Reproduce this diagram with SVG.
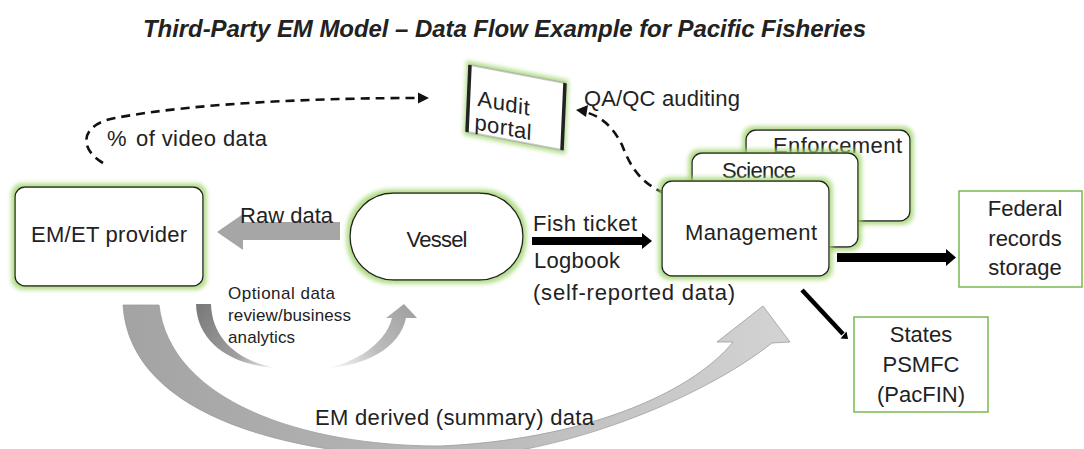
<svg xmlns="http://www.w3.org/2000/svg" width="1084" height="449" viewBox="0 0 1084 449">
<style>
text{font-family:"Liberation Sans",Arial,sans-serif;fill:#222;}
.t22{font-size:22px;}
.t17{font-size:17px;}
.box{fill:#fff;stroke:#222;stroke-width:1.4;}
.gbox{fill:#fff;stroke:#78b84f;stroke-width:1.5;}
.dash{fill:none;stroke:#111;stroke-width:2.6;stroke-dasharray:9 6;}
</style>
<defs>
<filter id="glow" x="-15%" y="-15%" width="130%" height="130%">
<feMorphology in="SourceAlpha" operator="dilate" radius="2.5" result="d"/>
<feGaussianBlur in="d" stdDeviation="2" result="b"/>
<feFlood flood-color="#9fd46c" flood-opacity="0.8"/>
<feComposite in2="b" operator="in" result="g"/>
<feMerge><feMergeNode in="g"/><feMergeNode in="SourceGraphic"/></feMerge>
</filter>
<linearGradient id="bigG" gradientUnits="userSpaceOnUse" x1="120" y1="0" x2="790" y2="0">
<stop offset="0" stop-color="#a3a3a3"/>
<stop offset="0.45" stop-color="#b5b5b5"/>
<stop offset="1" stop-color="#d3d3d3"/>
</linearGradient>
<linearGradient id="smL" gradientUnits="userSpaceOnUse" x1="200" y1="305" x2="280" y2="370">
<stop offset="0" stop-color="#7a7a7a"/>
<stop offset="0.6" stop-color="#a0a0a0"/>
<stop offset="1" stop-color="#ffffff"/>
</linearGradient>
<linearGradient id="smR" gradientUnits="userSpaceOnUse" x1="327" y1="368" x2="405" y2="306">
<stop offset="0" stop-color="#ffffff"/>
<stop offset="0.5" stop-color="#bdbdbd"/>
<stop offset="1" stop-color="#a3a3a3"/>
</linearGradient>
</defs>

<text x="143" y="37" font-size="24" font-weight="bold" font-style="italic" textLength="723" fill="#000">Third-Party EM Model – Data Flow Example for Pacific Fisheries</text>

<g id="connectors">
<path d="M123 305 L159 305 C170 400 300 446 440 446 C580 440 690 395 733 342 L717 342 L763 306 L790 342 L772 343 C700 400 560 455 450 458 C300 458 130 420 123 305 Z" fill="url(#bigG)" stroke="#9c9c9c" stroke-width="0.8"/>
<path d="M196 304 L211 304 C212 340 240 362 277 368 C235 366 197 345 196 304 Z" fill="url(#smL)"/>
<path d="M327 368 C355 362 385 345 392 318 L386 318 L404 304 L417 318 L406 318 C400 348 365 366 327 368 Z" fill="url(#smR)"/>
<path d="M340 222 L243 222 L243 214 L217 232 L243 250 L243 240 L340 240 Z" fill="#a6a6a6"/>
<path d="M532 237 L642 237 L642 233 L652 241 L642 249 L642 245 L532 245 Z" fill="#000"/>
<path d="M837 253 L946 253 L946 249 L956 257.5 L946 266 L946 262 L837 262 Z" fill="#000"/>
<line x1="802" y1="290" x2="843" y2="334" stroke="#000" stroke-width="4.5"/>
<path d="M840.5 338.5 L848 339 L846.5 331.5 Z" fill="#000"/>
<path class="dash" d="M103 163 C80 150 78 125 115 118 C200 102 330 98 420 98"/>
<path d="M418 92.5 L429 98 L418 103.5 Z" fill="#111"/>
<path class="dash" d="M679 198 C640 188 630 165 622 145 C612 125 600 116 585 112"/>
<path d="M576 110 L588 105 L586 117 Z" fill="#111"/>
</g>

<g id="em-provider">
<rect class="box" x="15" y="187" width="188" height="99" rx="10" filter="url(#glow)"/>
<text class="t22" x="109" y="242" text-anchor="middle" textLength="156">EM/ET provider</text>
</g>

<g id="vessel">
<rect class="box" x="350" y="193" width="173" height="87" rx="43.5" filter="url(#glow)"/>
<text class="t22" x="437" y="247" text-anchor="middle" textLength="61">Vessel</text>
</g>

<g id="audit-portal" transform="matrix(1 0.19 -0.045 1 470 65)">
<rect x="0" y="0" width="95" height="67" fill="#fff" stroke="#a0a0a0" stroke-width="1.2" filter="url(#glow)"/>
<line x1="0" y1="0" x2="0" y2="67" stroke="#222" stroke-width="3.5"/>
<line x1="95" y1="0" x2="95" y2="67" stroke="#222" stroke-width="3.5"/>
<text class="t22" x="9" y="39" textLength="52">Audit</text>
<text class="t22" x="7" y="63" textLength="57">portal</text>
</g>

<g id="enforcement">
<rect class="box" x="746" y="130" width="164" height="91" rx="10" filter="url(#glow)"/>
<text class="t22" x="773" y="153" textLength="129">Enforcement</text>
</g>
<g id="science">
<rect class="box" x="692" y="153" width="166" height="94" rx="10" filter="url(#glow)"/>
<text class="t22" x="722" y="178" textLength="74">Science</text>
</g>
<g id="management">
<rect class="box" x="662" y="181" width="167" height="95" rx="10" filter="url(#glow)"/>
<text class="t22" x="685" y="240" textLength="132">Management</text>
</g>

<g id="federal">
<rect class="gbox" x="959" y="191" width="123" height="96"/>
<text class="t22" x="1025" y="216" text-anchor="middle">Federal</text>
<text class="t22" x="1025" y="246" text-anchor="middle">records</text>
<text class="t22" x="1025" y="275" text-anchor="middle">storage</text>
</g>

<g id="states">
<rect class="gbox" x="854" y="317" width="134" height="95"/>
<text class="t22" x="921" y="342" text-anchor="middle">States</text>
<text class="t22" x="921" y="372" text-anchor="middle">PSMFC</text>
<text class="t22" x="921" y="402" text-anchor="middle">(PacFIN)</text>
</g>

<g id="labels">
<text class="t22" x="240" y="223" textLength="93">Raw data</text>
<text class="t22" x="533" y="231" textLength="104">Fish ticket</text>
<text class="t22" x="534" y="268" textLength="86">Logbook</text>
<text class="t22" x="533" y="300" textLength="202">(self-reported data)</text>
<text class="t22" x="584" y="106" textLength="156">QA/QC auditing</text>
<text class="t22" x="107" y="146">%</text>
<text class="t22" x="136" y="146" textLength="131">of video data</text>
<text class="t17" x="228" y="299" textLength="107">Optional data</text>
<text class="t17" x="228" y="321" textLength="123">review/business</text>
<text class="t17" x="228" y="343" textLength="67">analytics</text>
<text class="t22" x="315" y="425" textLength="279">EM derived (summary) data</text>
</g>
</svg>
